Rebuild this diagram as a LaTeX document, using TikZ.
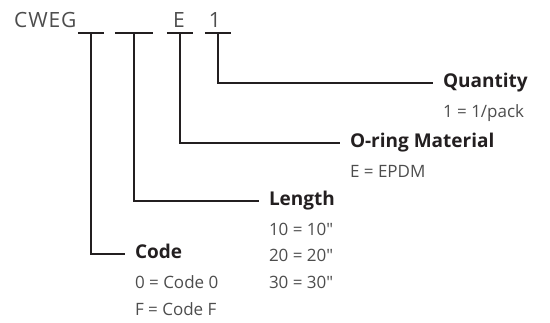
\documentclass[tikz,border=0pt]{standalone}
\usepackage{fontspec}
\setmainfont{Open Sans}
\usetikzlibrary{positioning}
\definecolor{encre}{HTML}{231F20}
\definecolor{gris}{HTML}{4D4D4D}

\begin{document}
\begin{tikzpicture}[x=1pt,y=-1pt]
\tikzstyle{trait}=[line width=1.8pt,draw=encre]
\tikzstyle{blanc}=[minimum width=26pt,minimum height=0pt,inner sep=0pt]
\tikzstyle{titre}=[anchor=west,inner sep=0pt,outer xsep=10pt,text height=13pt,text depth=4pt,text=encre,font=\bfseries\fontsize{19}{22}\selectfont]
\tikzstyle{detail}=[anchor=north west,inner sep=0pt,outer xsep=10pt,align=left,text=gris,font=\fontsize{17}{26.5}\selectfont]
\tikzstyle{lettre}=[inner sep=0pt,text=gris,font=\fontsize{21}{24}\selectfont]
\useasboundingbox (0,0) rectangle (550,322);
\node[lettre,anchor=base west] (Ref) at (14,27) {\addfontfeature{LetterSpace=4}CWEG};
\node[blanc] (B1) at (91,33) {};
\node[blanc,minimum width=38pt] (B2) at (134,33) {};
\node[blanc] (B3) at (180,33) {};
\node[blanc] (B4) at (218,33) {};
\node[lettre,anchor=base] (E) at (179,27) {E};
\node[lettre,anchor=base] (Un) at (215,27) {1};
\node[titre] (Quantite) at (433,83) {Quantity};
\node[detail] (QuantiteD) at ([yshift=-13pt]Quantite.south west) {1 = 1/pack};
\node[titre] (Joint) at (340,143) {O-ring Material};
\node[detail] (JointD) at ([yshift=-13pt]Joint.south west) {E = EPDM};
\node[titre] (Longueur) at (259,201) {Length};
\node[detail] (LongueurD) at ([yshift=-13pt]Longueur.south west) {10 = 10″\\20 = 20″\\30 = 30″};
\node[titre] (Code) at (125,254) {Code};
\node[detail] (CodeD) at ([yshift=-13pt]Code.south west) {0 = Code 0\\F = Code F};
\foreach \b in {B1,B2,B3,B4} \draw[trait] (\b.west)--(\b.east);
\draw[trait] (B4.south) |- (Quantite.west);
\draw[trait] (B3.south) |- (Joint.west);
\draw[trait] (B2.south) |- (Longueur.west);
\draw[trait] (B1.south) |- (Code.west);
\end{tikzpicture}
\end{document}
